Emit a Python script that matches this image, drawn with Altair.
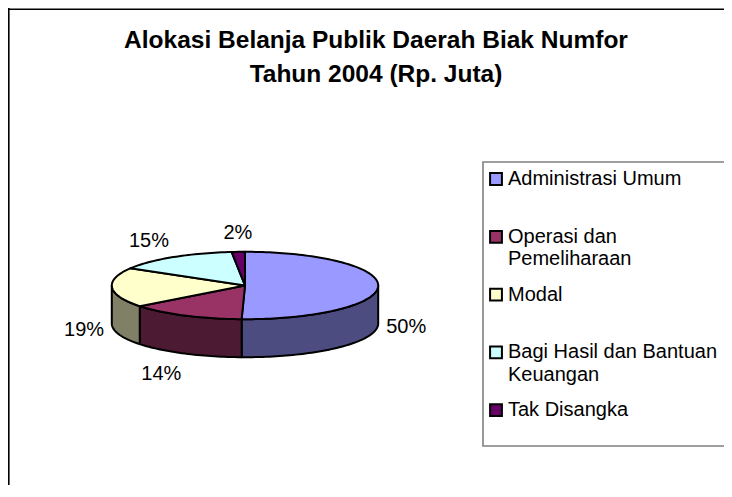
import numpy as np
import pandas as pd
import altair as alt

# ---------------- data ----------------
categories = ["Administrasi Umum", "Operasi dan Pemeliharaan", "Modal",
              "Bagi Hasil dan Bantuan Keuangan", "Tak Disangka"]
shares = [50.4, 14.1, 19.0, 14.9, 1.6]
legend_lines = [["Administrasi Umum"], ["Operasi dan", "Pemeliharaan"], ["Modal"],
                ["Bagi Hasil dan Bantuan", "Keuangan"], ["Tak Disangka"]]
title_lines = ["Alokasi Belanja Publik Daerah Biak Numfor", "Tahun 2004 (Rp. Juta)"]

# ---------------- styles ----------------
top_colors = ["#9999FF", "#993366", "#FFFFCC", "#CCFFFF", "#660066"]
side_colors = ["#4C4C80", "#4D1A33", "#808066", "#668080", "#330033"]
FONT = "Liberation Sans"

W, H = 716, 477
CX, CY, RX, RY, DEPTH = 237.0, 277.5, 133.2, 33.7, 38.0


def ell(t, dy=0.0):
    r = np.radians(t)
    return CX + RX * np.sin(r), CY - RY * np.cos(r) + dy


total = sum(shares)
edges = np.concatenate([[0.0], np.cumsum(shares)]) / total * 360.0

top_rows, side_rows, lab_rows = [], [], []
for i, (cat, v, a, b) in enumerate(zip(categories, shares, edges[:-1], edges[1:])):
    ts = np.linspace(a, b, max(3, int(np.ceil((b - a) / 1.5)) + 1))
    pts = [(CX, CY)] + [ell(t) for t in ts]
    for k, (x, y) in enumerate(pts):
        top_rows.append({"slice": cat, "k": k, "x": x, "y": y, "c": top_colors[i]})
    lo, hi = max(a, 90.0), min(b, 270.0)
    if hi > lo:
        ts = np.linspace(lo, hi, max(3, int(np.ceil((hi - lo) / 1.5)) + 1))
        pts = [ell(t) for t in ts] + [ell(t, DEPTH) for t in ts[::-1]]
        for k, (x, y) in enumerate(pts):
            side_rows.append({"slice": cat, "k": k, "x": x, "y": y, "c": side_colors[i]})
    m = np.radians((a + b) / 2)
    s, c = np.sin(m), np.cos(m)
    lx = CX + (RX + 8) * s
    ly = CY - (RY + 19) * c + (DEPTH + 3 if c < 0.05 else 0)
    align = "left" if s > 0.2 else ("right" if s < -0.2 else "center")
    lab_rows.append({"x": lx, "y": ly, "txt": f"{round(v / total * 100):.0f}%", "al": align})

top_df = pd.DataFrame(top_rows)
side_df = pd.DataFrame(side_rows)
lab_df = pd.DataFrame(lab_rows)

LEG_X, LEG_Y0, LEG_STEP, LEG_LH = 488, 171, 57.8, 22.5
sym_df = pd.DataFrame({"x": [LEG_X] * len(categories),
                       "y": [LEG_Y0 + LEG_STEP * i for i in range(len(categories))],
                       "c": top_colors, "slice": categories})
leg_rows = []
for i, lines in enumerate(legend_lines):
    for j, line in enumerate(lines):
        leg_rows.append({"x": LEG_X + 12, "y": LEG_Y0 + LEG_STEP * i + LEG_LH * j, "txt": line})
leg_df = pd.DataFrame(leg_rows)

title_df = pd.DataFrame({"x": [368, 368], "y": [40.3, 74.3], "txt": title_lines})

xs = alt.Scale(domain=[0, W], nice=False, zero=False)
ys = alt.Scale(domain=[0, H], nice=False, zero=False, reverse=True)
X = alt.X("x:Q", scale=xs, axis=None)
Y = alt.Y("y:Q", scale=ys, axis=None)

dummy = pd.DataFrame({"d": [0]})

legend_box = alt.Chart(dummy).mark_rect(fill="transparent", stroke="#808080", strokeWidth=1.6).encode(
    x=alt.value(475), x2=alt.value(W + 30), y=alt.value(154), y2=alt.value(438))

sides = alt.Chart(side_df).mark_line(interpolate="linear-closed", stroke="black",
                                     strokeWidth=2, strokeJoin="round").encode(
    x=X, y=Y, order="k:Q", detail="slice:N", fill=alt.Fill("c:N", scale=None))

tops = alt.Chart(top_df).mark_line(interpolate="linear-closed", stroke="black",
                                   strokeWidth=2, strokeJoin="round").encode(
    x=X, y=Y, order="k:Q", detail="slice:N", fill=alt.Fill("c:N", scale=None))

labels = []
for al in ["left", "right", "center"]:
    labels.append(alt.Chart(lab_df).transform_filter(alt.datum.al == al).mark_text(
        align=al, baseline="middle", fontSize=20, font=FONT, color="black").encode(
        x=X, y=Y, text="txt:N"))

symbols = alt.Chart(sym_df).mark_square(size=140, filled=True, stroke="black", strokeWidth=2, opacity=1).encode(
    x=X, y=Y, fill=alt.Fill("c:N", scale=None))

leg_text = alt.Chart(leg_df).mark_text(align="left", baseline="middle", fontSize=20,
                                       font=FONT, color="black").encode(x=X, y=Y, text="txt:N")

title = alt.Chart(title_df).mark_text(align="center", baseline="alphabetic", fontSize=24.5,
                                      fontWeight="bold", font=FONT, color="black").encode(
    x=X, y=Y, text="txt:N")

border_left = alt.Chart(dummy).mark_rule(color="black", strokeWidth=1.6).encode(
    x=alt.value(0.8), y=alt.value(0), y2=alt.value(H + 20))
border_top = alt.Chart(dummy).mark_rule(color="black", strokeWidth=1.6).encode(
    y=alt.value(1.3), x=alt.value(0), x2=alt.value(W + 30))

chart = alt.layer(legend_box, sides, tops, *labels, symbols, leg_text, title,
                  border_left, border_top).properties(
    width=W, height=H, padding=0, autosize="none", background="white"
).configure_view(strokeWidth=0)

chart.save("out.html", embed_options={"renderer": "svg", "actions": False})
